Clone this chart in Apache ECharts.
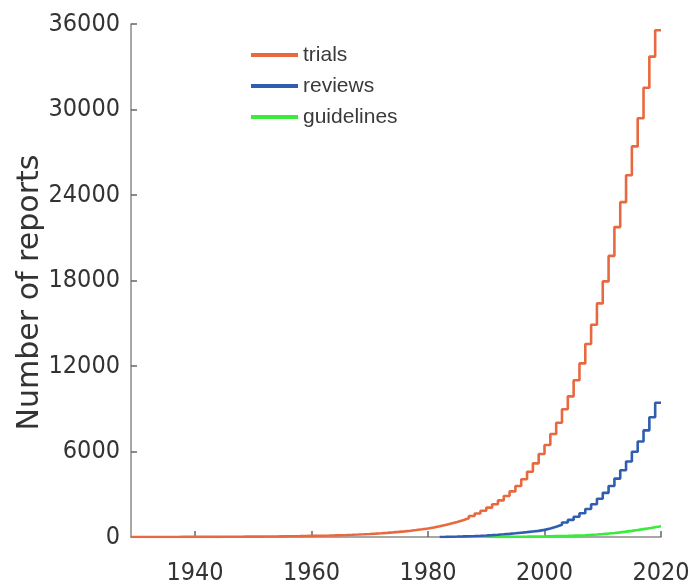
<!DOCTYPE html>
<html>
<head>
<meta charset="utf-8">
<script src="https://cdn.jsdelivr.net/npm/echarts@6/dist/echarts.min.js"></script>
<style>
html,body{margin:0;padding:0;background:#fff;}
#chart{width:689px;height:586px;}
</style>
</head>
<body>
<div id="chart"></div>
<script>
// x tick labels
var xTicks = [1940, 1960, 1980, 2000, 2020];
var yTicks = [0, 6000, 12000, 18000, 24000, 30000, 36000];

// cumulative trials, one value per year starting 1929
var trialsStartYear = 1929;
var trials = [
  0, 1, 1, 2, 2, 3, 3, 4, 5, 6, 7,                 // 1929-1939
  8, 9, 10, 11, 12, 14, 16, 18, 20, 23,            // 1940-1949
  26, 29, 32, 36, 40, 45, 50, 56, 62, 69,          // 1950-1959
  76, 84, 93, 103, 114, 126, 140, 155, 172, 191,   // 1960-1969
  212, 236, 262, 291, 323, 358, 397, 440, 488, 541,// 1970-1979
  600, 670, 750, 840, 940, 1050, 1175, 1315, 1470, 1645, // 1980-1989
  1840, 2060, 2300, 2570, 2880, 3200, 3580, 4050, 4580, 5170, // 1990-1999
  5825, 6456, 7228, 8021, 8961, 9870, 10996, 12182, 13544, 14898, // 2000-2009
  16393, 17937, 19726, 21747, 23500, 25382, 27410, 29382, 31523, 33712, // 2010-2019
  35565                                            // 2020
];

// cumulative reviews, starting 1982
var reviewsStartYear = 1982;
var reviews = [
  5, 12, 20, 30, 42, 55, 70, 88,                    // 1982-1989
  108, 130, 158, 188, 222, 260, 300, 340, 385, 430, // 1990-1999
  500, 600, 720, 860, 1020, 1200, 1420, 1670, 1960, 2300, // 2000-2009
  2680, 3100, 3580, 4100, 4680, 5300, 5980, 6700, 7480, 8400, // 2010-2019
  9420                                              // 2020
];

// cumulative guidelines, starting 1990
var guidelinesStartYear = 1990;
var guidelines = [
  1, 3, 5, 8, 11, 15, 19, 24, 30, 36,              // 1990-1999
  43, 51, 60, 70, 82, 95, 110, 128, 150, 175,      // 2000-2009
  205, 240, 280, 325, 375, 430, 490, 555, 620, 685,// 2010-2019
  750                                              // 2020
];

var seriesNames = ['trials', 'reviews', 'guidelines'];
var seriesColors = ['#E8693F', '#2F5DB0', '#3BEB3B'];

function pairs(start, vals) {
  return vals.map(function (v, i) { return [start + i, v]; });
}

var narrow = '"DejaVu Sans Condensed", "Liberation Sans", Arial, sans-serif';

var chart = echarts.init(document.getElementById('chart'), null, {renderer: 'canvas'});
var option = {
  animation: false,
  backgroundColor: '#ffffff',
  grid: {left: 131, right: 28, top: 24, bottom: 49, containLabel: false, outerBoundsMode: 'none'},
  legend: {
    orient: 'vertical',
    left: 246,
    top: 39,
    itemWidth: 47,
    itemHeight: 22,
    itemGap: 9,
    icon: 'path://M0,0 L100,0 L100,8 L0,8 Z',
    data: seriesNames,
    textStyle: {
      fontFamily: '"Liberation Sans", Arial, sans-serif',
      fontSize: 21,
      lineHeight: 22,
      color: '#3a3a3a'
    }
  },
  xAxis: {
    type: 'value',
    min: trialsStartYear,
    max: 2020,
    axisLine: {show: true, lineStyle: {color: '#8a8a8a', width: 1.5}},
    axisTick: {show: true, inside: true, length: 6, customValues: xTicks, lineStyle: {color: '#666', width: 1.5}},
    axisLabel: {
      customValues: xTicks,
      margin: 24,
      fontFamily: narrow,
      fontSize: 25,
      color: '#333',
      formatter: function (v) { return String(v); }
    },
    splitLine: {show: false}
  },
  yAxis: {
    type: 'value',
    min: yTicks[0],
    max: yTicks[yTicks.length - 1],
    interval: 6000,
    name: 'Number of reports',
    nameLocation: 'middle',
    nameGap: 86,
    nameMoveOverlap: false,
    nameTextStyle: {fontFamily: '"DejaVu Sans", sans-serif', fontSize: 30, color: '#333', padding: [0, 24, 0, 0]},
    axisLine: {show: true, lineStyle: {color: '#8a8a8a', width: 1.5}},
    axisTick: {show: true, inside: true, length: 6, lineStyle: {color: '#666', width: 1.5}},
    axisLabel: {
      margin: 11,
      fontFamily: narrow,
      fontSize: 25,
      color: '#333',
      formatter: function (v) { return String(v); }
    },
    splitLine: {show: false}
  },
  series: [
    {
      name: seriesNames[2], type: 'line', step: 'start', showSymbol: false, symbol: 'none',
      data: pairs(guidelinesStartYear, guidelines), z: 2,
      lineStyle: {color: seriesColors[2], width: 2.6}, itemStyle: {color: seriesColors[2]}
    },
    {
      name: seriesNames[1], type: 'line', step: 'start', showSymbol: false, symbol: 'none',
      data: pairs(reviewsStartYear, reviews), z: 3,
      lineStyle: {color: seriesColors[1], width: 2.6}, itemStyle: {color: seriesColors[1]}
    },
    {
      name: seriesNames[0], type: 'line', step: 'start', showSymbol: false, symbol: 'none',
      data: pairs(trialsStartYear, trials), z: 4,
      lineStyle: {color: seriesColors[0], width: 2.6}, itemStyle: {color: seriesColors[0]}
    }
  ]
};
chart.setOption(option);
</script>
</body>
</html>
